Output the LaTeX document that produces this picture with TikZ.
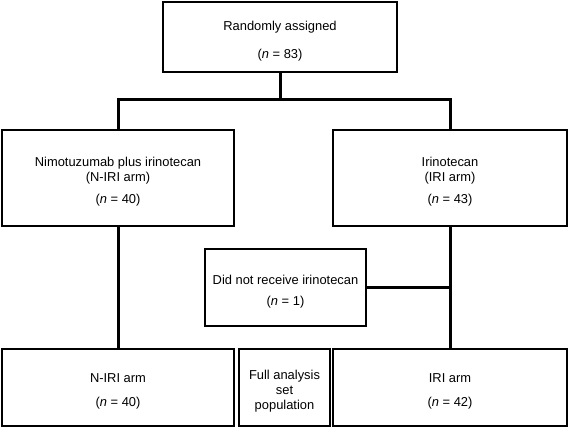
\documentclass[tikz,border=0pt]{standalone}
\usepackage{fontspec}
\setmainfont{Liberation Sans}
\usepackage{tikz}

\newcommand{\firstline}{\rule{0pt}{17pt}}

\tikzset{
  box/.style={draw, line width=1.2pt, align=center, inner sep=0pt,
              font=\fontsize{12.9pt}{15pt}\selectfont},
  link/.style={line width=3pt}
}

\begin{document}
\begin{tikzpicture}[x=1pt,y=-1pt]
            \useasboundingbox (0,0) rectangle (568,427);

            %boxes
            \node[box, minimum width=234, minimum height=70] (rand) at (280,37)
                {\firstline Randomly assigned\\[13pt](\textit{n} = 83)};
            \node[box, minimum width=232, minimum height=96] (niri) at (118,178)
                {\firstline Nimotuzumab plus irinotecan\\(N-IRI arm)\\[7pt](\textit{n} = 40)};
            \node[box, minimum width=234, minimum height=96] (iri) at (450,178)
                {\firstline Irinotecan\\(IRI arm)\\[7pt](\textit{n} = 43)};
            \node[box, minimum width=161, minimum height=77] (noiri) at (285.5,287.5)
                {\firstline Did not receive irinotecan\\[6pt](\textit{n} = 1)};
            \node[box, minimum width=232, minimum height=77] (niriend) at (118,387.5)
                {\firstline N-IRI arm\\[9pt](\textit{n} = 40)};
            \node[box, minimum width=91, minimum height=77] (fas) at (284.5,387.5)
                {\firstline Full analysis\\set\\population};
            \node[box, minimum width=234, minimum height=77] (iriend) at (450,387.5)
                {\firstline IRI arm\\[9pt](\textit{n} = 42)};

            %links
            \coordinate (split) at (280,100);
            \draw[link] (rand.south) -- (split);
            \draw[link] (niri.north) |- (split) -| (iri.north);
            \draw[link] (niri.south) -- (niriend.north);
            \draw[link] (iri.south) -- (iriend.north);
            \draw[link] (noiri.east) -- (noiri.east -| iri.south);
\end{tikzpicture}
\end{document}
